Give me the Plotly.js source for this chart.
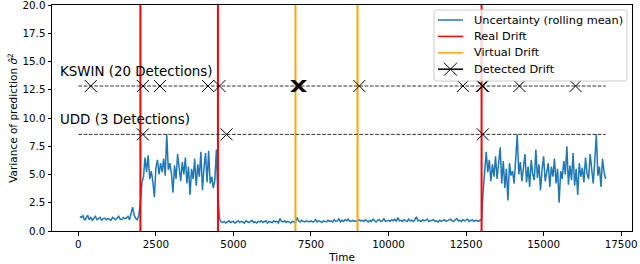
<!DOCTYPE html>
<html>
<head>
<meta charset="utf-8">
<script src="https://cdn.plot.ly/plotly-3.0.1.min.js"></script>
<style>html,body{margin:0;padding:0;background:#fff;}#chart{width:640px;height:264px;}</style>
</head>
<body>
<div id="chart"></div>
<script>
// Rolling-mean uncertainty, sampled every 50 time steps from t=50 to t=17000
const timeStart = 50;
const timeStep = 50;
const uncertainty = [
  // 50 - 1950
  1.3,1.2,1.35,0.95,1.15,1.4,1.0,1.2,0.95,1.15,1.3,1.0,1.1,1.2,0.95,1.1,1.15,1.0,1.1,1.05,
  0.95,1.2,1.1,1.0,1.15,1.3,1.05,1.0,1.2,1.1,1.15,1.3,1.0,1.5,2.1,1.4,1.1,1.0,1.4,
  // 2000 - 4450
  2.5,4.3,4.8,6.5,5.2,6.7,4.6,5.3,4.4,3.0,5.6,6.3,5.0,6.0,5.2,6.4,4.9,8.55,5.4,6.0,
  5.1,3.4,5.8,4.6,6.8,5.5,4.4,6.1,5.0,6.5,4.2,5.7,3.2,5.5,4.6,6.4,4.0,5.9,4.8,7.0,
  3.6,5.6,6.9,4.3,7.1,4.2,4.8,3.8,4.5,7.2,
  // 4500 - 12950
  3.0,1.1,0.8,0.75,0.85,0.7,0.8,0.9,0.75,0.8,
  0.85,0.7,0.8,0.9,0.75,0.85,0.8,0.7,0.9,0.8,
  0.75,0.85,0.95,0.75,0.8,0.7,0.85,0.8,0.9,0.75,
  0.8,0.9,0.7,0.85,0.8,0.75,0.9,0.8,0.85,0.7,
  1.1,0.85,0.8,0.9,0.75,0.85,0.8,0.7,0.85,0.8,
  0.75,1.2,0.9,0.8,0.95,0.85,0.8,0.9,0.85,0.8,
  0.9,0.8,0.85,1.0,0.8,0.9,0.85,0.75,0.9,0.85,
  0.8,0.95,0.85,0.9,0.8,1.0,0.85,0.9,1.1,0.8,
  0.95,0.85,1.0,0.9,1.05,0.85,0.9,0.95,0.85,0.9,
  0.85,1.0,0.9,0.95,0.85,1.0,0.9,0.8,0.95,0.85,
  1.05,0.9,0.8,0.95,1.0,0.85,0.9,1.1,0.85,0.9,
  0.95,0.85,1.0,0.9,1.05,0.85,1.2,0.9,0.95,0.85,
  1.0,0.9,0.85,1.05,0.9,0.95,0.85,1.0,1.25,0.9,
  0.95,0.85,1.0,0.9,0.95,1.05,0.85,0.9,0.95,1.0,
  0.85,0.9,0.8,0.95,0.85,0.9,1.0,0.85,0.9,0.95,
  1.05,0.9,0.85,1.0,1.1,0.9,0.95,0.85,1.0,0.9,
  0.95,1.05,0.85,0.9,1.0,0.85,0.95,0.9,0.85,0.95,
  // 13000 - 17000
  1.0,3.5,5.5,7.0,5.2,6.3,4.4,5.9,4.8,6.6,
  4.6,5.8,7.4,4.2,6.2,3.8,5.5,2.7,6.0,4.9,
  5.3,4.2,6.5,8.55,5.0,6.1,4.4,5.6,6.8,4.3,
  5.7,3.9,6.3,5.0,4.5,7.2,4.7,5.9,3.6,5.4,
  6.6,4.4,5.1,6.0,3.9,5.7,4.8,6.4,4.2,5.5,
  2.5,5.3,4.6,6.2,5.0,7.5,4.1,5.8,4.5,6.9,
  4.0,5.5,3.2,6.0,4.8,5.6,4.3,6.5,5.1,4.6,
  6.8,5.4,4.2,6.2,8.55,4.9,5.7,3.9,6.4,5.2,
  4.6
];
const realDrift = [2000, 4500, 13000];
const virtualDrift = [7000, 9000];
const kswinDetections = [400, 2080, 2630, 4180, 4550, 7040, 7060, 7080, 7090, 7100, 7110, 7120, 7140, 7160,
                         9060, 12400, 13010, 13050, 14220, 16030];
const uddDetections = [2080, 4780, 13040];
const kswinLevel = 12.83;
const uddLevel = 8.55;
const detectionSpan = [0, 17000];
const kswinLabel = 'KSWIN (20 Detections)';
const uddLabel = 'UDD (3 Detections)';
const legendLabels = ['Uncertainty (rolling mean)', 'Real Drift', 'Virtual Drift', 'Detected Drift'];
const yRange = [0, 20];
const xRange = [-850, 17850];
const xTicks = [0, 2500, 5000, 7500, 10000, 12500, 15000, 17500];
const yTicks = [0, 2.5, 5, 7.5, 10, 12.5, 15, 17.5, 20];

const COLORS = {unc: '#1f77b4', real: '#ff0000', virt: '#ffa500', det: 'black'};
const times = uncertainty.map((_, i) => timeStart + i * timeStep);

function vlines(xs) {
  const x = [], y = [];
  xs.forEach(v => { x.push(v, v, null); y.push(yRange[0], yRange[1], null); });
  return {x, y};
}
const rd = vlines(realDrift), vd = vlines(virtualDrift);
const FONT = 'DejaVu Sans, sans-serif';
const dashStyle = {color: '#333', width: 1, dash: '3.7px,1.6px'};
const xMarker = {symbol: 'x-thin-open', size: 12, color: 'black', line: {color: 'black', width: 1}};

const traces = [
  {x: times, y: uncertainty, mode: 'lines', line: {color: COLORS.unc, width: 1.5}},
  {x: rd.x, y: rd.y, mode: 'lines', line: {color: COLORS.real, width: 2}},
  {x: vd.x, y: vd.y, mode: 'lines', line: {color: COLORS.virt, width: 2}},
  {x: detectionSpan, y: detectionSpan.map(() => kswinLevel), mode: 'lines', line: dashStyle},
  {x: detectionSpan, y: detectionSpan.map(() => uddLevel), mode: 'lines', line: dashStyle},
  {x: kswinDetections, y: kswinDetections.map(() => kswinLevel), mode: 'markers', marker: xMarker},
  {x: uddDetections, y: uddDetections.map(() => uddLevel), mode: 'markers', marker: xMarker}
];

// ---- hand-drawn legend (pixel layout -> paper coords) ----
const M = {l: 52, r: 8, t: 5, b: 33};
const plotW = 640 - M.l - M.r, plotH = 264 - M.t - M.b;
const px = v => (v - M.l) / plotW;
const py = v => (264 - M.b - v) / plotH;
const box = {x0: 434, x1: 627, y0: 10, y1: 81, r: 3};
const rows = [20, 36.4, 52.8, 69.2];
const sample = {x0: 438, x1: 463};
const textX = 471.5;
function roundRect(b) {
  const X = px, Y = py, r = b.r;
  return `M${X(b.x0 + r)},${Y(b.y0)} L${X(b.x1 - r)},${Y(b.y0)} Q${X(b.x1)},${Y(b.y0)} ${X(b.x1)},${Y(b.y0 + r)} ` +
         `L${X(b.x1)},${Y(b.y1 - r)} Q${X(b.x1)},${Y(b.y1)} ${X(b.x1 - r)},${Y(b.y1)} ` +
         `L${X(b.x0 + r)},${Y(b.y1)} Q${X(b.x0)},${Y(b.y1)} ${X(b.x0)},${Y(b.y1 - r)} ` +
         `L${X(b.x0)},${Y(b.y0 + r)} Q${X(b.x0)},${Y(b.y0)} ${X(b.x0 + r)},${Y(b.y0)} Z`;
}
const sampleColors = [COLORS.unc, COLORS.real, COLORS.virt, COLORS.det];
const shapes = [{type: 'path', xref: 'paper', yref: 'paper', path: roundRect(box), layer: 'above',
                 fillcolor: 'rgba(255,255,255,0.8)', line: {color: '#cccccc', width: 1}}];
rows.forEach((ry, i) => {
  shapes.push({type: 'line', xref: 'paper', yref: 'paper', layer: 'above',
               x0: px(sample.x0), x1: px(sample.x1), y0: py(ry), y1: py(ry),
               line: {color: sampleColors[i], width: 1.5}});
});
const cx = (sample.x0 + sample.x1) / 2, cy = rows[3], h = 6.5;
shapes.push({type: 'path', xref: 'paper', yref: 'paper', layer: 'above',
             path: `M${px(cx - h)},${py(cy - h)} L${px(cx + h)},${py(cy + h)} M${px(cx - h)},${py(cy + h)} L${px(cx + h)},${py(cy - h)}`,
             line: {color: 'black', width: 1}});

const annotations = [
  {x: -670, y: 14.1, xref: 'x', yref: 'y', text: kswinLabel, showarrow: false, xanchor: 'left', yanchor: 'middle',
   font: {family: FONT, size: 13.4, color: 'black'}},
  {x: -670, y: 9.86, xref: 'x', yref: 'y', text: uddLabel, showarrow: false, xanchor: 'left', yanchor: 'middle',
   font: {family: FONT, size: 13.4, color: 'black'}}
];
legendLabels.forEach((t, i) => {
  annotations.push({x: px(textX), y: py(rows[i]), xref: 'paper', yref: 'paper', text: t, showarrow: false,
                    xanchor: 'left', yanchor: 'middle', font: {family: FONT, size: 11.3, color: 'black'}});
});

const layout = {
  width: 640, height: 264,
  margin: M,
  paper_bgcolor: 'white', plot_bgcolor: 'white',
  font: {family: FONT, size: 10.3, color: 'black'},
  showlegend: false,
  xaxis: {range: xRange, tickvals: xTicks, ticktext: xTicks.map(String),
          showgrid: false, zeroline: false, showline: true, mirror: true, linecolor: 'black', linewidth: 1,
          ticks: 'outside', ticklen: 3.5, tickcolor: 'black',
          title: {text: 'Time', font: {family: FONT, size: 10.5}, standoff: 4}},
  yaxis: {range: yRange, tickvals: yTicks, ticktext: yTicks.map(v => v.toFixed(1)), ticklabeloverflow: 'allow',
          showgrid: false, zeroline: false, showline: true, mirror: true, linecolor: 'black', linewidth: 1,
          ticks: 'outside', ticklen: 3.5, tickcolor: 'black',
          title: {text: 'Variance of prediction <i>σ̂</i><sup>2</sup>', font: {family: FONT, size: 10.5}, standoff: 2}},
  shapes: shapes,
  annotations: annotations
};

Plotly.newPlot('chart', traces, layout, {staticPlot: true, displayModeBar: false});
</script>
</body>
</html>
